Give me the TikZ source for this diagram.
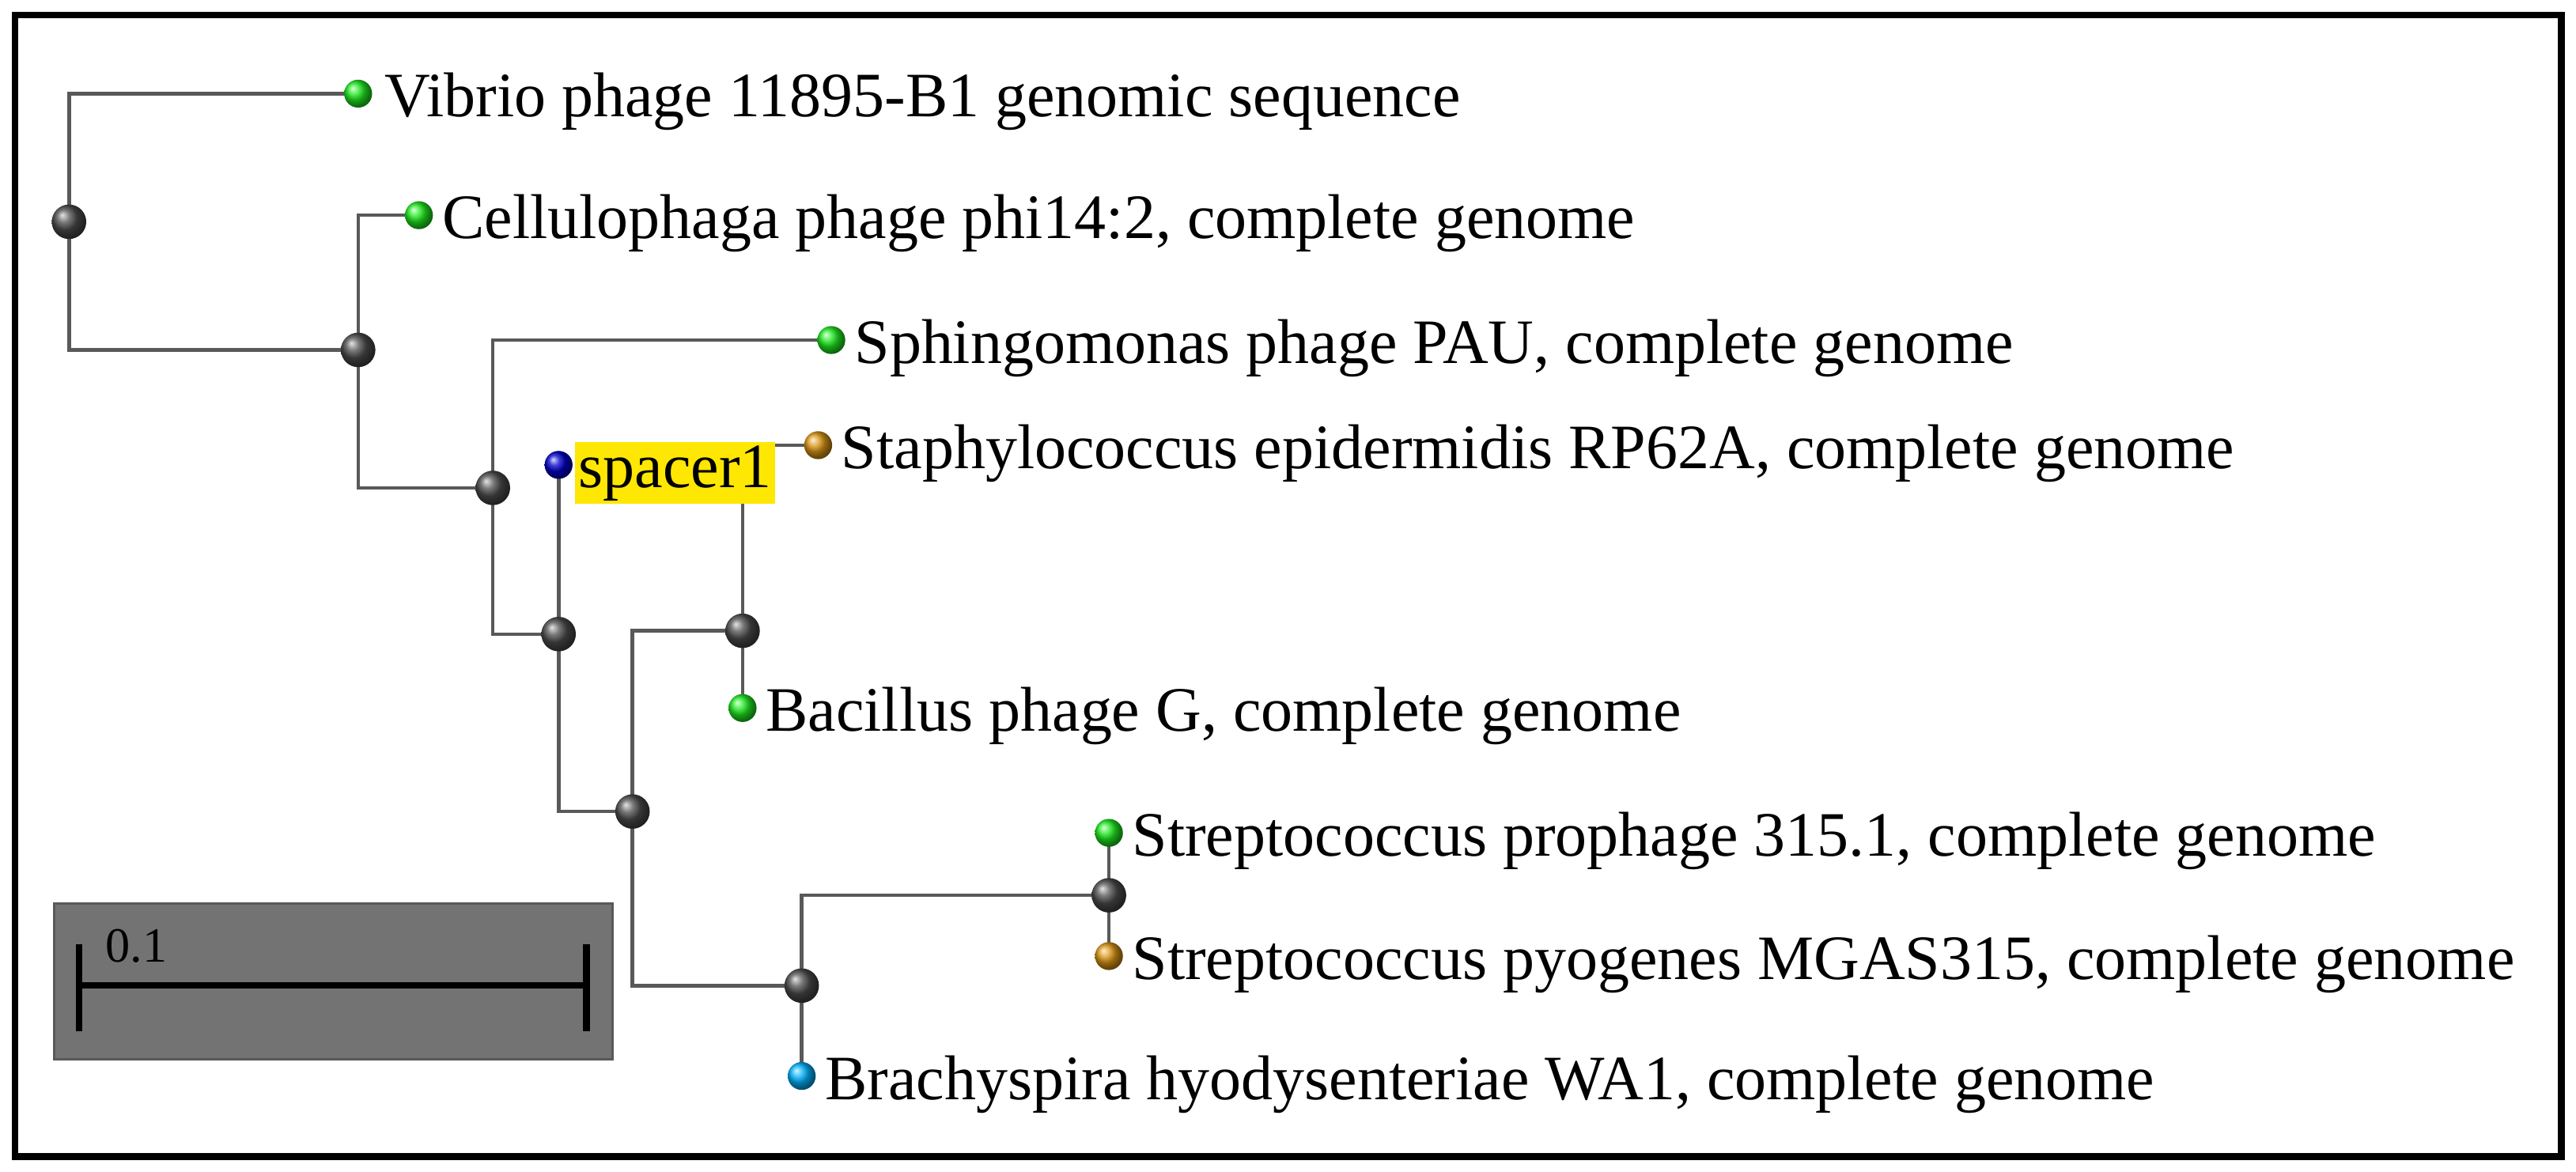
\documentclass[tikz,border=0pt]{standalone}
\usepackage{fontspec}
\setmainfont{Liberation Serif}
\definecolor{lgreen}{RGB}{30,235,30}
\definecolor{lorange}{RGB}{220,150,20}
\begin{document}
\begin{tikzpicture}[x=1pt,y=-1pt,
  br/.style={draw=black!65,line width=2.2pt},
  inode/.style={circle,minimum size=21pt,inner sep=0pt,ball color=black!70},
  leafg/.style={circle,minimum size=17pt,inner sep=0pt,ball color=lgreen},
  leafo/.style={circle,minimum size=17pt,inner sep=0pt,ball color=lorange},
  leafb/.style={circle,minimum size=17pt,inner sep=0pt,ball color=blue!80!black},
  leafc/.style={circle,minimum size=17pt,inner sep=0pt,ball color=cyan!70!blue},
  lab/.style={anchor=west,font=\fontsize{38.5}{40}\selectfont,inner sep=2pt}]
\useasboundingbox (0,0) rectangle (1568,713);
\fill[white] (0,0) rectangle (1568,713);
\draw[line width=4pt] (9,9) rectangle (1559,704);
% branches
\draw[br] (218,57) -- (42,57) -- (42,213) -- (218,213);
\draw[br] (255,131) -- (218,131) -- (218,297) -- (300,297);
\draw[br] (506,207) -- (300,207) -- (300,386) -- (340,386);
\draw[br] (340,283) -- (340,494) -- (385,494);
\draw[br] (452,384) -- (385,384) -- (385,600) -- (488,600);
\draw[br] (498,271) -- (452,271) -- (452,431);
\draw[br] (675,545) -- (488,545) -- (488,655);
\draw[br] (675,507) -- (675,582);
% nodes
\node[inode] (n1) at (42,135) {};
\node[inode] (n2) at (218,213) {};
\node[inode] (n3) at (300,297) {};
\node[inode] (n4) at (340,386) {};
\node[inode] (n5) at (385,494) {};
\node[inode] (n6) at (452,384) {};
\node[inode] (n7) at (488,600) {};
\node[inode] (n8) at (675,545) {};
\node[leafg] (l1) at (218,57) {};
\node[leafg] (l2) at (255,131) {};
\node[leafg] (l3) at (506,207) {};
\node[leafb] (l4) at (340,283) {};
\node[leafo] (l5) at (498,271) {};
\node[leafg] (l6) at (452,431) {};
\node[leafg] (l7) at (675,507) {};
\node[leafo] (l8) at (675,582) {};
\node[leafc] (l9) at (488,655) {};
% labels
\node[lab] at (232,62) {Vibrio phage 11895-B1 genomic sequence};
\node[lab] at (267,136) {Cellulophaga phage phi14:2, complete genome};
\node[lab] at (518,212) {Sphingomonas phage PAU, complete genome};
\node[lab,fill=yellow!90!orange] at (350,288) {spacer1};
\node[lab] at (510,276) {Staphylococcus epidermidis RP62A, complete genome};
\node[lab] at (464,436) {Bacillus phage G, complete genome};
\node[lab] at (687,512) {Streptococcus prophage 315.1, complete genome};
\node[lab] at (687,587) {Streptococcus pyogenes MGAS315, complete genome};
\node[lab] at (500,660) {Brachyspira hyodysenteriae WA1, complete genome};
% scale bar
\draw[fill=black!55,draw=black!65,line width=1.5pt] (33,550) rectangle (373,645);
\draw[line width=4pt] (48,575) -- (48,628) (48,600) -- (357,600) (357,575) -- (357,628);
\node[anchor=west,font=\fontsize{30}{32}\selectfont,inner sep=0pt] at (64,576) {0.1};
\end{tikzpicture}
\end{document}
